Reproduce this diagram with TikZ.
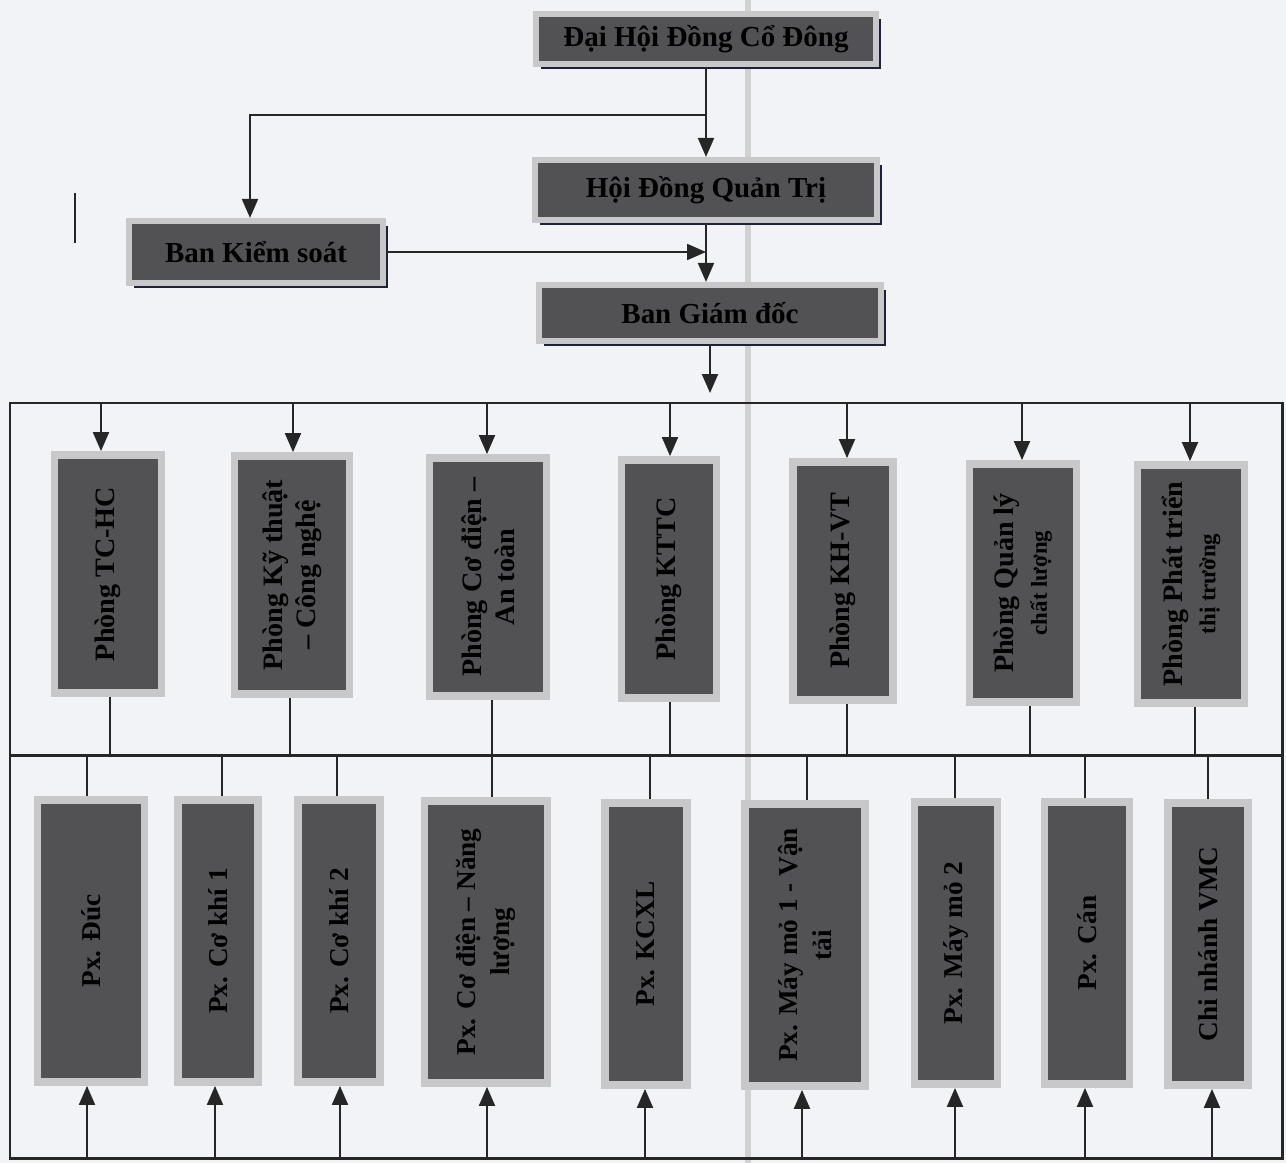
\documentclass[tikz,border=0pt]{standalone}
\usepackage{fontspec}
\setmainfont{Liberation Serif}
\usepackage{tikz}
\usetikzlibrary{positioning,arrows.meta,shadows}
\definecolor{paper}{RGB}{241,243,246}
\definecolor{boxfill}{RGB}{82,82,84}
\definecolor{halo}{RGB}{200,200,203}
\definecolor{navy}{RGB}{28,34,58}
\newcommand\smallline{\fontsize{13}{15}\selectfont}

\begin{document}
\begin{tikzpicture}[x=0.02cm,y=-0.02cm,
 head/.style={rectangle,fill=boxfill,draw=halo,line width=3.5pt,inner sep=0pt,
  font=\bfseries\fontsize{16.5}{18}\selectfont,
  drop shadow={shadow xshift=2.8pt,shadow yshift=-2.8pt,fill=navy,opacity=1}},
 unit/.style={rectangle,fill=boxfill,draw=halo,line width=4.5pt,inner sep=0pt},
 lbl/.style={rotate=90,align=center,inner sep=0pt,
  font=\bfseries\fontsize{16}{19}\selectfont},
 wire/.style={line width=1.2pt,black!85},
 frame/.style={line width=1.7pt,black!85},
 arr/.style={wire,-{Triangle[length=3.8mm,width=3.2mm]}}]
\useasboundingbox (0,0) rectangle (1286,1163);
\fill[paper] (0,0) rectangle (1286,1163);
\draw[line width=3pt,black!18] (748,0) -- (748,1163);

\node[head,minimum width=6.8cm,minimum height=1cm] (dhcd) at (706,39) {Đại Hội Đồng Cổ Đông};
\node[head,minimum width=6.84cm,minimum height=1.2cm] (hdqt) at (706,190) {Hội Đồng Quản Trị};
\node[head,minimum width=5.08cm,minimum height=1.24cm] (bks) at (256,252) {Ban Kiểm soát};
\node[head,minimum width=6.84cm,minimum height=1.12cm] (bgd) at (710,313) {Ban Giám đốc};

\coordinate (split) at (706,115);
\coordinate (kbend) at (250,115);
\coordinate (gdown) at (710,393);
\draw[wire] (dhcd.south) -- (split);
\draw[arr] (split) -- (split |- hdqt.north);
\draw[arr] (split) -- (kbend) -- (kbend |- bks.north);
\draw[arr] (hdqt.south) -- (hdqt.south |- bgd.north);
\draw[arr] (bks.east) -- (bks.east -| hdqt.south);
\draw[arr] (bgd.south) -- (gdown);
\draw[wire] (75,193) -- (75,243);

\draw[frame] (10,403) rectangle (1282,1158);
\draw[frame] (10,755) -- (1282,755);

\foreach \n/\x/\y/\w/\ax/\lx/\t in {
 tchc/108/574/107/101/110/{Phòng TC-HC},
 ktcn/292/575/115/293/290/{Phòng Kỹ thuật\\– Công nghệ},
 cdat/488/577/117/487/492/{Phòng Cơ điện –\\An toàn},
 kttc/669/579/95/670/670/{Phòng KTTC},
 khvt/843/581/100/847/847/{Phòng KH-VT},
 qlcl/1023/583/107/1022/1030/{Phòng Quản lý\\\smallline chất lượng},
 pttt/1191/584/107/1190/1195/{Phòng Phát triển\\\smallline thị trường}}
{
 \node[unit,minimum width={\w*0.02cm},minimum height=4.76cm] (\n) at (\x,\y) {};
 \node[lbl] (\n-t) at (\n.center) {\t};
 \coordinate (a\n) at (\ax,403);
 \coordinate (b\n) at (\lx,755);
 \draw[arr] (a\n) -- (a\n |- \n.north);
 \draw[wire] (b\n |- \n.south) -- (b\n);
}

\foreach \n/\x/\y/\w/\tx/\ax/\t in {
 duc/91/941/107/87/87/{Px. Đúc},
 ckm/218/941/80/222/215/{Px. Cơ khí 1},
 ckh/339/941/82/337/340/{Px. Cơ khí 2},
 cdnl/486/942/123/492/487/{Px. Cơ điện – Năng\\lượng},
 kcxl/646/944/82/650/645/{Px. KCXL},
 mmm/805/945/120/807/802/{Px. Máy mỏ 1 - Vận\\tải},
 mmh/956/943/83/955/955/{Px. Máy mỏ 2},
 can/1087/943/85/1085/1085/{Px. Cán},
 vmc/1208/944/80/1208/1212/{Chi nhánh VMC}}
{
 \node[unit,minimum width={\w*0.02cm},minimum height=5.64cm] (\n) at (\x,\y) {};
 \node[lbl,font=\bfseries\fontsize{15.5}{19}\selectfont] (\n-t) at (\n.center) {\t};
 \coordinate (d\n) at (\tx,755);
 \coordinate (c\n) at (\ax,1158);
 \draw[wire] (d\n) -- (d\n |- \n.north);
 \draw[arr] (c\n) -- (c\n |- \n.south);
}
\end{tikzpicture}
\end{document}
